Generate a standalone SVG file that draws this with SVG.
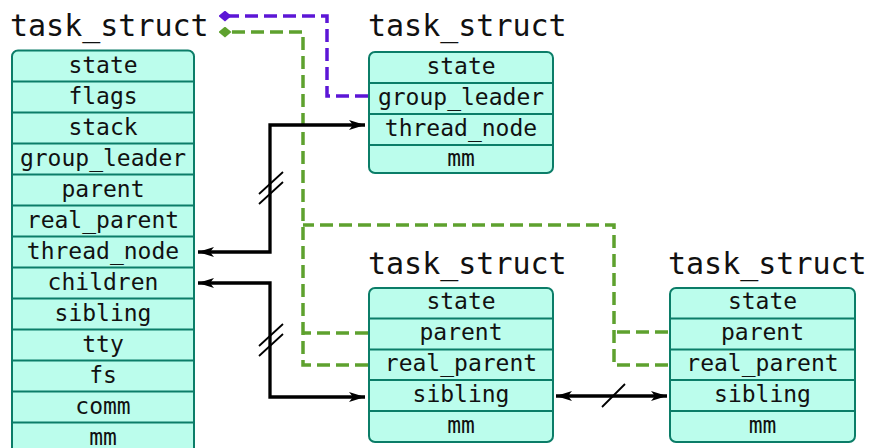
<svg xmlns="http://www.w3.org/2000/svg" width="871" height="448" viewBox="0 0 871 448">
<style>
.title{font-family:"DejaVu Sans Mono","Liberation Mono",monospace;font-size:30px;fill:#111}
.f{font-family:"DejaVu Sans Mono","Liberation Mono",monospace;font-size:23px;fill:#111;text-anchor:middle}
.box{fill:#bbfdec;stroke:#0b7d68;stroke-width:2}
.sep{stroke:#0b7d68;stroke-width:2}
.blk{fill:none;stroke:#000;stroke-width:3.3}
.pur{fill:none;stroke:#5c16d6;stroke-width:3.5;stroke-dasharray:13,6}
.grn{fill:none;stroke:#5ea12e;stroke-width:3.5;stroke-dasharray:13,6}
.tick{stroke:#000;stroke-width:1.8}
</style>
<defs>
<marker id="arr" viewBox="0 0 16 10" refX="16" refY="5" markerWidth="16" markerHeight="10" markerUnits="userSpaceOnUse" orient="auto-start-reverse">
<path d="M0,0 L16,5 L0,10 L4,5 z" fill="#000"/>
</marker>
<marker id="dp" viewBox="0 0 12 10" refX="6" refY="5" markerWidth="13" markerHeight="11" markerUnits="userSpaceOnUse" orient="auto">
<path d="M0,5 L6,0 L12,5 L6,10 z" fill="#5c16d6"/>
</marker>
<marker id="dg" viewBox="0 0 12 10" refX="6" refY="5" markerWidth="13" markerHeight="11" markerUnits="userSpaceOnUse" orient="auto">
<path d="M0,5 L6,0 L12,5 L6,10 z" fill="#5ea12e"/>
</marker>
</defs>

<g id="task1">
<text class="title" x="10" y="36">task_struct</text>
<rect class="box" x="12" y="50.5" width="182" height="420" rx="6"/>
<path class="sep" d="M12,81.5H194M12,112.5H194M12,143.5H194M12,174.5H194M12,205.5H194M12,236.5H194M12,267.5H194M12,298.5H194M12,329.5H194M12,360.5H194M12,391.5H194M12,422.5H194"/>
<text class="f" x="103" y="72.5">state</text>
<text class="f" x="103" y="103.5">flags</text>
<text class="f" x="103" y="134.5">stack</text>
<text class="f" x="103" y="165.5">group_leader</text>
<text class="f" x="103" y="196.5">parent</text>
<text class="f" x="103" y="227.5">real_parent</text>
<text class="f" x="103" y="258.5">thread_node</text>
<text class="f" x="103" y="289.5">children</text>
<text class="f" x="103" y="320.5">sibling</text>
<text class="f" x="103" y="351.5">tty</text>
<text class="f" x="103" y="382.5">fs</text>
<text class="f" x="103" y="413.5">comm</text>
<text class="f" x="103" y="444.5">mm</text>
</g>

<g id="task2">
<text class="title" x="368" y="36">task_struct</text>
<rect class="box" x="369" y="52" width="184" height="121" rx="6"/>
<path class="sep" d="M369,83H553M369,114H553M369,145H553"/>
<text class="f" x="461" y="74">state</text>
<text class="f" x="461" y="105">group_leader</text>
<text class="f" x="461" y="136">thread_node</text>
<text class="f" x="461" y="166">mm</text>
</g>

<g id="task3">
<text class="title" x="368" y="274">task_struct</text>
<rect class="box" x="369" y="288" width="184" height="154" rx="6"/>
<path class="sep" d="M369,318.5H553M369,349.5H553M369,380H553M369,411H553"/>
<text class="f" x="461" y="309">state</text>
<text class="f" x="461" y="340">parent</text>
<text class="f" x="461" y="371">real_parent</text>
<text class="f" x="461" y="401.5">sibling</text>
<text class="f" x="461" y="432.5">mm</text>
</g>

<g id="task4">
<text class="title" x="668" y="274">task_struct</text>
<rect class="box" x="670" y="288" width="185" height="154" rx="6"/>
<path class="sep" d="M670,318.5H855M670,349.5H855M670,380H855M670,411H855"/>
<text class="f" x="762.5" y="309">state</text>
<text class="f" x="762.5" y="340">parent</text>
<text class="f" x="762.5" y="371">real_parent</text>
<text class="f" x="762.5" y="401.5">sibling</text>
<text class="f" x="762.5" y="432.5">mm</text>
</g>

<g id="connectors">
<path class="pur" d="M368,96H327V16H225" marker-end="url(#dp)"/>
<path class="grn" d="M368,365H303V32H225" marker-end="url(#dg)"/>
<path class="grn" d="M368,333H303"/>
<path class="grn" d="M668,365H614V225H303"/>
<path class="grn" d="M668,332H614"/>
<path class="blk" d="M198,252H270V125H365" marker-start="url(#arr)" marker-end="url(#arr)"/>
<path class="blk" d="M198,283H270V397H365" marker-start="url(#arr)" marker-end="url(#arr)"/>
<path class="blk" d="M556,396H667" marker-start="url(#arr)" marker-end="url(#arr)"/>
<path class="tick" d="M259,194L283,172M259,204L283,182M259,346L283,324M259,356L283,334M602,407L625,384"/>
</g>
</svg>
